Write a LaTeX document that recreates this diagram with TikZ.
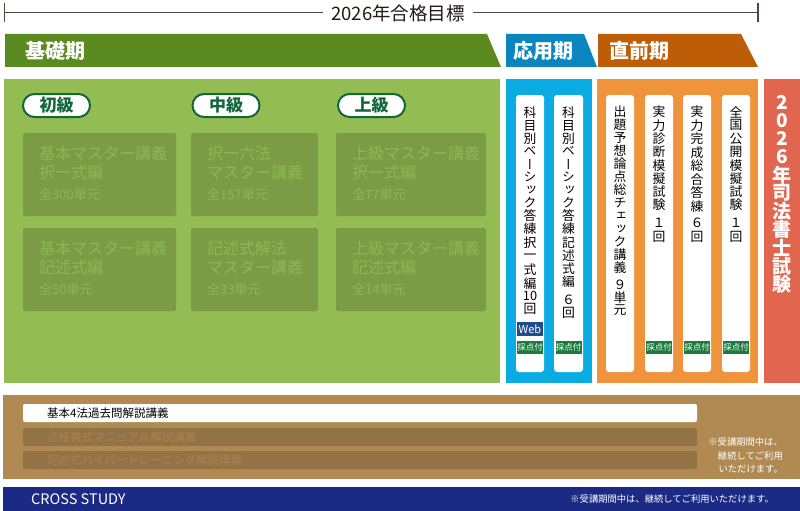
\documentclass[tikz,border=0pt]{standalone}
\usepackage{fontspec}
\setmainfont{Noto Sans CJK JP}
\newfontfamily\tatefont[RawFeature=+vert]{Noto Sans CJK JP}
\usetikzlibrary{shapes.misc}
\definecolor{kisogreen}{HTML}{5B8A21}
\definecolor{oyoblue}{HTML}{0A85BD}
\definecolor{chokuorange}{HTML}{BD5D07}
\definecolor{panelgreen}{HTML}{93BC53}
\definecolor{coursegreen}{HTML}{7B9B44}
\definecolor{fadegreen}{HTML}{90B656}
\definecolor{pillgreen}{HTML}{13683A}
\definecolor{panelblue}{HTML}{0AACE3}
\definecolor{panelorange}{HTML}{F0943B}
\definecolor{panelred}{HTML}{E06650}
\definecolor{webblue}{HTML}{1F4D8C}
\definecolor{badgegreen}{HTML}{1C7A3C}
\definecolor{brownbg}{HTML}{B08A52}
\definecolor{barbrown}{HTML}{937346}
\definecolor{fadebrown}{HTML}{A6834F}
\definecolor{crossnavy}{HTML}{1A2A85}
\definecolor{ink}{HTML}{231815}
\tikzset{%
    rule/.style={line width=1.2pt, draw=ink!80},
    goal/.style={fill=white, text=ink, inner xsep=8pt, inner ysep=0pt, font=\fontsize{18.5}{18.5}\selectfont},
    bannertxt/.style={anchor=west, inner sep=0pt, text=white, font=\bfseries\fontsize{20}{20}\selectfont},
    pill/.style={rounded rectangle, draw=pillgreen, line width=2pt, fill=white, text=pillgreen,
        minimum width=67pt, minimum height=23pt, inner sep=0pt, font=\bfseries\fontsize{17}{17}\selectfont},
    course/.style={fill=coursegreen, rounded corners=2pt},
    coursetxt/.style={anchor=west, inner sep=0pt, text=fadegreen, font=\fontsize{16}{16}\selectfont},
    counttxt/.style={anchor=west, inner sep=0pt, text=fadegreen, font=\fontsize{13}{13}\selectfont},
    card/.style={fill=white, rounded corners=3pt},
    tatechar/.style={inner sep=0pt, text=black, font=\tatefont\fontsize{12.8}{12.8}\selectfont},
    examchar/.style={inner sep=0pt, text=white, font=\tatefont\bfseries\fontsize{19}{19}\selectfont},
    badge/.style={fill=badgegreen, text=white, inner sep=0pt, minimum width=26pt, minimum height=13pt,
        font=\fontsize{8.5}{8.5}\selectfont},
    bar/.style={fill=barbrown, rounded corners=2pt},
    bartxt/.style={anchor=west, inner sep=0pt, text=fadebrown, font=\fontsize{11.5}{11.5}\selectfont},
    note/.style={inner sep=0pt, text=white, font=\fontsize{9.3}{13.5}\selectfont}
}
% vertical text: [style]{name}{x}{first y}{step}{characters}
\newcommand\tate[6][tatechar]{%
    \foreach \ch [count=\k from 0] in {#6}
        \node[#1] (#2-\k) at ({#3},{#4+\k*#5}) {\ch};}

\begin{document}
\begin{tikzpicture}[x=1pt,y=-1pt]
    \useasboundingbox (0,0) rectangle (800,511);
    % goal line
    \coordinate (L) at (4.5,12.5);
    \coordinate (R) at (758,12.5);
    \draw[rule] (L) -- (R);
    \draw[rule] (4.5,3) -- (4.5,22);
    \draw[rule] (758,3) -- (758,22);
    \node[goal] (goal) at (398,13) {2026年合格目標};
    % phase banners
    \fill[kisogreen] (5,34) -- (487,34) -- (501,67) -- (5,67) -- cycle;
    \node[bannertxt] (kiso) at (25,50.5) {基礎期};
    \fill[oyoblue] (506,34) -- (584,34) -- (597,67) -- (506,67) -- cycle;
    \node[bannertxt] (oyo) at (513,50.5) {応用期};
    \fill[chokuorange] (598,34) -- (741,34) -- (758,67) -- (598,67) -- cycle;
    \node[bannertxt] (chokuzen) at (609,50.5) {直前期};
    % panels
    \fill[panelgreen] (4,79) rectangle (500,383);
    \fill[panelblue] (506,79) rectangle (592,383);
    \fill[panelorange] (597,79) rectangle (758,383);
    \fill[panelred] (764,79) rectangle (800,383);
    % levels
    \node[pill] (shokyu) at (56.5,105.5) {初級};
    \node[pill] (chukyu) at (226,105.5) {中級};
    \node[pill] (jokyu) at (371.5,105.5) {上級};
    \foreach \n/\xa/\ya/\xb/\yb/\la/\lb/\cnt in {%
        k1/23/133/176/216/基本マスター講義/択一式編/全300単元,
        k2/191/133/318/216/択一六法/マスター講義/全157単元,
        k3/336/133/486/216/上級マスター講義/択一式編/全77単元,
        k4/23/228/176/311/基本マスター講義/記述式編/全50単元,
        k5/191/228/318/311/記述式解法/マスター講義/全33単元,
        k6/336/228/486/311/上級マスター講義/記述式編/全14単元}{
        \fill[course] (\xa,\ya) rectangle (\xb,\yb);
        \node[coursetxt] (\n-a) at (\xa+16,\ya+20) {\la};
        \node[coursetxt] (\n-b) at (\xa+16,\ya+39.5) {\lb};
        \node[counttxt] (\n-c) at (\xa+16,\ya+62) {\cnt};
    }
    % cards
    \foreach \xa/\xb in {516/544, 554/583, 606/634, 645/673, 683/711, 722/750}
        \fill[card] (\xa,95) rectangle (\xb,372);
    \tate{c1a}{530}{113}{12.8}{科,目,別,ベ,ー,シ,ッ,ク,答,練}
    \tate{c1b}{530}{243}{13.5}{択,一,式,編}
    \tate{c1c}{530}{296}{12.5}{10,回}
    \tate{c2a}{568.5}{113}{12.8}{科,目,別,ベ,ー,シ,ッ,ク,答,練}
    \tate{c2b}{568.5}{243}{12.8}{記,述,式,編}
    \tate{c2c}{568.5}{300}{13}{６,回}
    \tate{c3a}{620}{112}{13}{出,題,予,想,論,点,総,チ,ェ,ッ,ク,講,義}
    \tate{c3b}{620}{285}{12.8}{９,単,元}
    \tate{c4a}{659}{112}{13.3}{実,力,診,断,模,擬,試,験}
    \tate{c4b}{659}{223}{14}{１,回}
    \tate{c5a}{697}{112}{13.5}{実,力,完,成,総,合,答,練}
    \tate{c5b}{697}{223}{14}{６,回}
    \tate{c6a}{736}{112}{13.3}{全,国,公,開,模,擬,試,験}
    \tate{c6b}{736}{223}{14}{１,回}
    \tate[examchar]{exam}{782}{102}{18.2}{2,0,2,6,年,司,法,書,士,試,験}
    \node[badge, fill=webblue, minimum height=14pt, font=\fontsize{11}{11}\selectfont] (web) at (530,329) {Web};
    \foreach \n/\x in {s1/530, s2/568.5, s4/659, s5/697, s6/736}
        \node[badge] (\n) at (\x,347.5) {採点付};
    % past exam lectures
    \fill[brownbg] (3,395) rectangle (800,479);
    \fill[white, rounded corners=2pt] (23,404) rectangle (697,422);
    \node[bartxt, text=black] (kakomon) at (47,413) {基本4法過去問解説講義};
    \fill[bar] (23,428) rectangle (697,446);
    \node[bartxt] (shoshiki) at (47,437) {合格書式マニュアル解説講義};
    \fill[bar] (23,451) rectangle (697,469);
    \node[bartxt] (hyper) at (47,460) {記述式ハイパートレーニング解説講義};
    \node[note, align=right, anchor=east] (keizoku) at (783,455.5) {※受講期間中は、\\継続してご利用\\いただけます。};
    % cross study
    \fill[crossnavy] (3,487) rectangle (800,511);
    \node[note, anchor=west, font=\fontsize{14.5}{14.5}\selectfont] (cross) at (31,499) {CROSS STUDY};
    \node[note, anchor=east] (crossnote) at (774,498.5) {※受講期間中は、継続してご利用いただけます。};
\end{tikzpicture}
\end{document}
